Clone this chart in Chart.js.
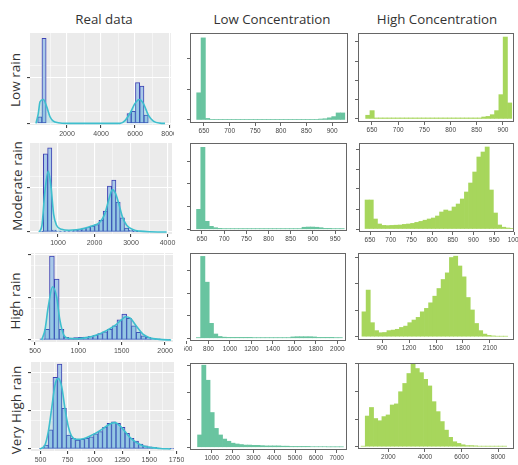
<!DOCTYPE html>
<html>
<head>
<meta charset="utf-8">
<script src="https://cdn.jsdelivr.net/npm/chart.js@4.4.1/dist/chart.umd.min.js"></script>
<style>
  body { margin: 0; width: 518px; height: 465px; overflow: hidden; position: relative; background: #fff; font-family: "Open Sans", sans-serif; }
  canvas { position: absolute; }
  .title { position: absolute; top: 19px; transform: translate(-50%, -50%); font-size: 13.3px; color: #333; white-space: nowrap; }
  .rowlab { position: absolute; transform: translate(-50%, -50%) rotate(-90deg); font-size: 13.5px; color: #333; white-space: nowrap; }
</style>
</head>
<body>
<script>
// ---- labels ----
const columnTitles = ["Real data", "Low Concentration", "High Concentration"];
const rowLabels = ["Low rain", "Moderate rain", "High rain", "Very High rain"];

// ---- Low rain ----
// histogram bins: [first bin centre, bin width]
const lowRealBins = [400, 250];
const lowRealCounts = [29, 370, 0, 0, 0, 0, 0, 0, 0, 0, 0, 0, 0, 0, 0, 0, 0, 0, 0, 0, 0, 43, 52, 177, 162, 36];
const lowRealDensX = [176, 314, 412, 608, 804, 1000, 1196, 1490, 1980, 5116, 5410, 5704, 5998, 6252, 6488, 6782, 7076, 7468, 7762];
const lowRealDensY = [0, 44, 94, 104, 73, 29, 10, 3, 0, 0, 12, 44, 87, 104, 87, 36, 10, 1, 0];
const lowLcBins = [640, 8.5];
const lowLcCounts = [89, 269, 5, 2, 2, 2, 2, 2, 2, 2, 2, 2, 2, 2, 2, 2, 2, 2, 2, 2, 2, 2, 2, 2, 2, 2, 2, 2, 3, 4, 7, 11, 23, 23];
const lowHcBins = [642, 8.2];
const lowHcCounts = [19, 43, 5, 5, 5, 5, 5, 5, 5, 5, 5, 5, 5, 5, 5, 5, 5, 5, 5, 5, 5, 5, 5, 5, 5, 5, 5, 10, 13, 22, 43, 126, 425, 83];

// ---- Moderate rain ----
const modRealBins = [540, 117];
const modRealCounts = [2, 350, 377, 9, 4, 3, 3, 4, 7, 11, 18, 22, 26, 33, 52, 94, 206, 233, 134, 63, 18, 8, 2, 2];
const modRealDensX = [480, 560, 640, 734, 810, 880, 960, 1100, 1300, 1500, 1700, 1900, 2151, 2280, 2400, 2490, 2570, 2660, 2760, 2881, 3064, 3247, 3521, 3977];
const modRealDensY = [0, 30, 180, 273, 200, 80, 30, 12, 8, 10, 16, 26, 45, 80, 150, 190, 175, 130, 70, 30, 10, 4, 1, 0];
const modLcBins = [642.5, 9.5];
const modLcCounts = [88, 361, 35, 13, 7, 4, 3, 3, 3, 3, 3, 3, 3, 3, 3, 3, 3, 3, 3, 3, 3, 3, 3, 3, 3, 9, 10, 10, 9, 7, 4, 4, 3, 3, 3];
const modHcBins = [643, 10];
const modHcCounts = [145, 145, 50, 25, 18, 17, 18, 19, 20, 23, 25, 28, 33, 38, 44, 50, 55, 65, 85, 95, 90, 110, 125, 150, 185, 230, 285, 360, 385, 410, 195, 80, 20, 9, 5, 3];

// ---- High rain ----
const highRealBins = [584, 55.6];
const highRealCounts = [5, 50, 394, 286, 50, 13, 9, 11, 13, 14, 17, 22, 30, 38, 50, 67, 94, 122, 102, 66, 36, 20, 13, 8, 5, 3, 2];
const highRealDensX = [577, 615, 653, 703, 749, 787, 833, 883, 979, 1094, 1209, 1323, 1419, 1496, 1546, 1599, 1668, 1745, 1821, 1936, 2070];
const highRealDensY = [0, 47, 156, 250, 203, 94, 23, 8, 6, 11, 23, 44, 67, 94, 109, 102, 66, 28, 11, 3, 0];
const highLcBins = [707, 40];
const highLcCounts = [3, 362, 248, 66, 19, 8, 5, 4, 4, 4, 4, 4, 4, 3, 3, 3, 3, 3, 3, 3, 3, 3, 6, 7, 7, 7, 7, 6, 4, 4, 4, 4, 3, 3];
const highHcBins = [700, 46.3];
const highHcCounts = [94, 176, 53, 23, 15, 16, 23, 25, 28, 35, 40, 53, 63, 73, 94, 107, 128, 153, 182, 216, 241, 299, 304, 267, 226, 148, 101, 50, 23, 10, 5, 3, 2, 2, 2];

// ---- Very High rain ----
const vhRealBins = [511, 41.4];
const vhRealCounts = [4, 21, 100, 376, 445, 213, 73, 56, 47, 51, 56, 64, 79, 91, 114, 135, 143, 135, 114, 82, 56, 42, 26, 16, 12, 9, 5, 4, 3, 2];
const vhRealDensX = [495, 541, 572, 603, 633, 664, 695, 725, 756, 786, 832, 894, 955, 1016, 1077, 1139, 1185, 1231, 1277, 1322, 1384, 1445, 1522, 1598, 1696];
const vhRealDensY = [0, 21, 91, 213, 335, 370, 327, 213, 117, 68, 51, 54, 68, 86, 108, 131, 138, 121, 91, 61, 33, 16, 7, 3, 0];
const vhLcBins = [420, 200];
const vhLcCounts = [45, 300, 245, 127, 69, 45, 30, 22, 15, 12, 10, 8, 8, 7, 7, 6, 5, 5, 5, 5, 4, 4, 3, 3, 3, 3, 3, 2, 2, 2, 2, 1.5, 1.5, 1.5, 1.5];
const vhHcBins = [631, 227];
const vhHcCounts = [2, 111, 142, 102, 94, 109, 115, 151, 155, 199, 229, 265, 299, 283, 268, 244, 220, 163, 127, 91, 60, 34, 18, 12, 7, 4, 4, 3, 2, 2, 2, 2, 2, 2, 2];

// ---- tick values ----
const lowRealXMajor = [2000, 4000, 6000, 8000], lowRealXMinor = [1000, 3000, 5000, 7000];
const modRealXMajor = [1000, 2000, 3000, 4000], modRealXMinor = [500, 1500, 2500, 3500];
const highRealXMajor = [500, 1000, 1500, 2000], highRealXMinor = [750, 1250, 1750];
const vhRealXMajor = [500, 750, 1000, 1250, 1500, 1750], vhRealXMinor = [625, 875, 1125, 1375, 1625];
const realY4Major = [0, 100, 200, 300], realY4Minor = [50, 150, 250, 350];
const realY5Major = [0, 100, 200, 300, 400], realY5Minor = [50, 150, 250, 350, 450];
const lowLcXTicks = [650, 700, 750, 800, 850, 900];
const lowHcXTicks = [650, 700, 750, 800, 850, 900];
const modLcXTicks = [650, 700, 750, 800, 850, 900, 950];
const modHcXTicks = [650, 700, 750, 800, 850, 900, 950, 1000];
const highLcXTicks = [600, 800, 1000, 1200, 1400, 1600, 1800, 2000];
const highHcXTicks = [900, 1200, 1500, 1800, 2100];
const vhLcXTicks = [1000, 2000, 3000, 4000, 5000, 6000, 7000];
const vhHcXTicks = [2000, 4000, 6000, 8000];
const concY3 = [0, 100, 200], concY4 = [0, 100, 200, 300], concY5 = [0, 100, 200, 300, 400];

// ---- layout ----
const AXIS_W = 6, AXIS_H = 16;
const COLORS = { real: "#a9c9e8", realEdge: "#3d40b3", dens: "#3ebfce", lc: "#69c4a0", hc: "#a7d65c" };

const panels = [
  { kind: "real", area: [30, 33, 171, 125], padR: 3, xr: [-176, 8114], yr: [-7, 393], bins: lowRealBins, counts: lowRealCounts,
    densX: lowRealDensX, densY: lowRealDensY, xMajor: lowRealXMajor, xMinor: lowRealXMinor, yMajor: realY4Major, yMinor: realY4Minor },
  { kind: "lc", area: [190, 33, 348, 123], padR: 3, xr: [622.7, 931], yr: [-10, 285], bins: lowLcBins, counts: lowLcCounts, xMajor: lowLcXTicks, yMajor: concY3 },
  { kind: "hc", area: [358, 33, 514, 122], padR: 4, xr: [623.3, 921], yr: [-16, 446], bins: lowHcBins, counts: lowHcCounts, xMajor: lowHcXTicks, yMajor: concY5 },

  { kind: "real", area: [30, 143, 172, 234], padR: 6, xr: [233, 4123], yr: [-9, 399], bins: modRealBins, counts: modRealCounts,
    densX: modRealDensX, densY: modRealDensY, xMajor: modRealXMajor, xMinor: modRealXMinor, yMajor: realY4Major, yMinor: realY4Minor },
  { kind: "lc", area: [190, 143, 347, 231], padR: 4, xr: [623, 976.6], yr: [-7.5, 380], bins: modLcBins, counts: modLcCounts, xMajor: modLcXTicks, yMajor: concY4 },
  { kind: "hc", area: [359, 143, 514, 232], padR: 4, xr: [623.4, 997.8], yr: [-15, 430], bins: modHcBins, counts: modHcCounts, xMajor: modHcXTicks, yMajor: concY5 },

  { kind: "real", area: [31, 253, 173, 342], padR: 6, xr: [454, 2092], yr: [-9.4, 408], bins: highRealBins, counts: highRealCounts,
    densX: highRealDensX, densY: highRealDensY, xMajor: highRealXMajor, xMinor: highRealXMinor, yMajor: realY5Major, yMinor: realY4Minor },
  { kind: "lc", area: [190, 253, 346, 341], padR: 4, xr: [628, 2081], yr: [-12, 377], bins: highLcBins, counts: highLcCounts, xMajor: highLcXTicks, yMajor: concY4 },
  { kind: "hc", area: [358, 253, 514, 340], padR: 4, xr: [633, 2367], yr: [-12.4, 316], bins: highHcBins, counts: highHcCounts, xMajor: highHcXTicks, yMajor: concY4 },

  { kind: "real", area: [31, 362, 174, 451], padR: 10, xr: [413, 1727], yr: [-10.5, 456], bins: vhRealBins, counts: vhRealCounts,
    densX: vhRealDensX, densY: vhRealDensY, xMajor: vhRealXMajor, xMinor: vhRealXMinor, yMajor: realY5Major, yMinor: realY5Minor },
  { kind: "lc", area: [190, 363, 347, 450], padR: 4, xr: [-43, 7494], yr: [-10, 308], bins: vhLcBins, counts: vhLcCounts, xMajor: vhLcXTicks, yMajor: concY4 },
  { kind: "hc", area: [358, 363, 514, 449], padR: 4, xr: [349, 8860], yr: [-8.3, 303], bins: vhHcBins, counts: vhHcCounts, xMajor: vhHcXTicks, yMajor: concY4 }
];

const titleX = [104, 272, 437];
const rowPos = [[15, 80], [17, 186], [15, 301], [16, 410]];

columnTitles.forEach((t, i) => {
  const d = document.createElement("div");
  d.className = "title";
  d.style.left = titleX[i] + "px";
  d.textContent = t;
  document.body.appendChild(d);
});
rowLabels.forEach((t, i) => {
  const d = document.createElement("div");
  d.className = "rowlab";
  d.style.left = rowPos[i][0] + "px";
  d.style.top = rowPos[i][1] + "px";
  d.textContent = t;
  document.body.appendChild(d);
});

// grey ggplot background / R style frame
const panelDeco = {
  id: "panelDeco",
  beforeDraw(chart, args, opts) {
    if (!opts.fill) return;
    const a = chart.chartArea, c = chart.ctx;
    c.save();
    c.fillStyle = opts.fill;
    c.fillRect(a.left, a.top, a.right - a.left, a.bottom - a.top);
    c.restore();
  },
  afterDraw(chart, args, opts) {
    if (!opts.frame) return;
    const a = chart.chartArea, c = chart.ctx;
    c.save();
    c.strokeStyle = opts.frame;
    c.lineWidth = 1;
    c.strokeRect(Math.round(a.left) + 0.5, Math.round(a.top) + 0.5, Math.round(a.right - a.left) - 1, Math.round(a.bottom - a.top) - 1);
    c.restore();
  }
};

function buildPanel(p) {
  const [l, t, r, b] = p.area;
  const cv = document.createElement("canvas");
  cv.width = r - l + AXIS_W + p.padR;
  cv.height = b - t + AXIS_H;
  cv.style.left = (l - AXIS_W) + "px";
  cv.style.top = t + "px";
  document.body.appendChild(cv);

  const real = p.kind === "real";
  const datasets = [{
    type: "bar",
    order: 2,
    data: p.counts.map((c, i) => ({ x: p.bins[0] + i * p.bins[1], y: c })),
    backgroundColor: real ? COLORS.real : COLORS[p.kind],
    borderColor: COLORS.realEdge,
    borderWidth: real ? 1 : 0,
    borderSkipped: false,
    barPercentage: 1,
    categoryPercentage: 1
  }];
  if (real) {
    datasets.push({
      type: "line",
      order: 1,
      data: p.densX.map((x, i) => ({ x: x, y: p.densY[i] })),
      borderColor: COLORS.dens,
      borderWidth: 1.6,
      backgroundColor: "rgba(64, 196, 210, 0.2)",
      fill: "origin",
      pointRadius: 0,
      cubicInterpolationMode: "monotone"
    });
  }

  const xTicks = real ? p.xMajor.concat(p.xMinor) : p.xMajor;
  const yTicks = real ? p.yMajor.concat(p.yMinor) : p.yMajor;
  const majX = (v) => p.xMajor.includes(v);
  const majY = (v) => p.yMajor.includes(v);

  const gridX = real
    ? { offset: false, color: "#ffffff", lineWidth: (c) => (majX(c.tick.value) ? 1.1 : 0.5), tickLength: 3,
        tickColor: (c) => (majX(c.tick.value) ? "#444" : "rgba(0,0,0,0)") }
    : { offset: false, drawOnChartArea: false, tickLength: 3, color: "#666" };
  const gridY = real
    ? { color: "#ffffff", lineWidth: (c) => (majY(c.tick.value) ? 1.1 : 0.5), tickLength: 3,
        tickColor: (c) => (majY(c.tick.value) ? "#444" : "rgba(0,0,0,0)") }
    : { drawOnChartArea: false, tickLength: 3, color: "#666" };

  new Chart(cv, {
    type: "bar",
    data: { datasets: datasets },
    options: {
      responsive: false,
      animation: false,
      layout: { padding: { left: 0, right: p.padR, top: 0, bottom: 0 } },
      plugins: {
        legend: { display: false },
        tooltip: { enabled: false },
        panelDeco: real ? { fill: "#ebebeb" } : { frame: "#666" }
      },
      scales: {
        x: {
          type: "linear",
          min: p.xr[0],
          max: p.xr[1],
          offset: false,
          afterBuildTicks: (s) => { s.ticks = xTicks.map((v) => ({ value: v })); },
          afterFit: (s) => { s.height = AXIS_H; s.paddingLeft = 0; s.paddingRight = 0; },
          border: { display: false },
          grid: gridX,
          ticks: {
            autoSkip: false,
            maxRotation: 0,
            minRotation: 0,
            padding: 1.5,
            color: real ? "#4d4d4d" : "#444",
            font: { family: "Liberation Sans, Arial, sans-serif", size: real ? 7 : 6.5 },
            callback: (v) => (majX(v) ? String(v) : "")
          }
        },
        y: {
          type: "linear",
          min: p.yr[0],
          max: p.yr[1],
          afterBuildTicks: (s) => { s.ticks = yTicks.map((v) => ({ value: v })); },
          afterFit: (s) => { s.width = AXIS_W; s.paddingTop = 0; s.paddingBottom = 0; },
          border: { display: false },
          grid: gridY,
          ticks: { padding: 0, callback: () => "" }
        }
      }
    },
    plugins: [panelDeco]
  });
}

panels.forEach(buildPanel);
</script>
</body>
</html>
